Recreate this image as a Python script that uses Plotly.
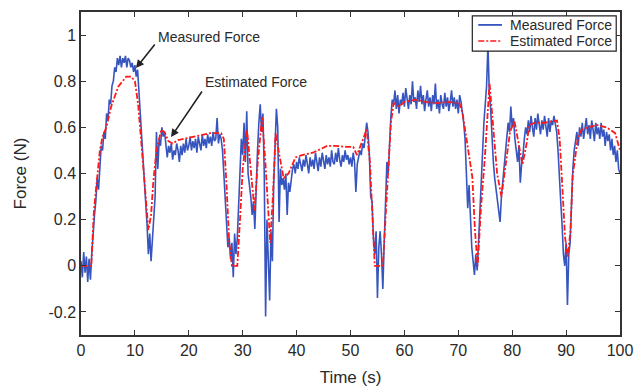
import numpy as np
import plotly.graph_objects as go

# Measured force sampled every 0.25 s (0 .. 100 s)
measured = [
    0.02, -0.05, 0.06, -0.03,
    0.04, -0.07, 0.03, -0.06,
    0.05, 0.15, 0.22, 0.28,
    0.38, 0.33, 0.45, 0.52,
    0.50, 0.58, 0.55, 0.66,
    0.63, 0.72, 0.70, 0.78,
    0.80, 0.86, 0.84, 0.90,
    0.87, 0.91, 0.86, 0.90,
    0.88, 0.91, 0.86, 0.90,
    0.89, 0.86, 0.88, 0.84,
    0.87, 0.82, 0.85, 0.76,
    0.68, 0.58, 0.50, 0.40,
    0.30, 0.18, 0.05, 0.14,
    0.02, 0.12, 0.25, 0.30,
    0.58, 0.42, 0.55, 0.52,
    0.60, 0.56, 0.58, 0.53,
    0.47, 0.52, 0.49, 0.53,
    0.46, 0.50, 0.48, 0.53,
    0.50, 0.45, 0.52, 0.48,
    0.53, 0.49, 0.55, 0.50,
    0.52, 0.56, 0.50, 0.54,
    0.51, 0.55, 0.49, 0.56,
    0.53, 0.50, 0.57, 0.52,
    0.55, 0.51, 0.57, 0.53,
    0.56, 0.52, 0.58, 0.54,
    0.55, 0.64, 0.53, 0.57,
    0.55, 0.50, 0.40, 0.28,
    0.15, 0.08, 0.12, 0.03,
    0.10, -0.05, 0.14, 0.05,
    0.12, 0.25, 0.40, 0.55,
    0.48, 0.62, 0.45, 0.67,
    0.40, 0.35, 0.30, 0.22,
    0.28, 0.16, 0.35, 0.50,
    0.62, 0.70, 0.58, 0.66,
    0.40, -0.22, 0.20, 0.05,
    -0.15, 0.15, 0.02, 0.35,
    0.55, 0.68, 0.60, 0.19,
    0.42, 0.35, 0.38, 0.33,
    0.40, 0.22, 0.36, 0.32,
    0.37, 0.42, 0.44, 0.40,
    0.45, 0.42, 0.47, 0.43,
    0.41, 0.46, 0.43, 0.48,
    0.44, 0.40, 0.47, 0.43,
    0.46, 0.42, 0.49, 0.44,
    0.41, 0.47, 0.43, 0.49,
    0.45, 0.42, 0.48, 0.44,
    0.47, 0.43, 0.50, 0.45,
    0.44, 0.49, 0.45, 0.51,
    0.46, 0.43, 0.48, 0.45,
    0.50, 0.46, 0.48, 0.44,
    0.47, 0.43, 0.49, 0.45,
    0.32, 0.44, 0.47, 0.50,
    0.48, 0.53, 0.51, 0.56,
    0.62, 0.58, 0.48, 0.30,
    0.28, 0.12, 0.05, 0.15,
    -0.14, 0.08, 0.15, 0.05,
    -0.10, 0.10, 0.25, 0.45,
    0.40, 0.55, 0.65, 0.72,
    0.70, 0.76, 0.68, 0.74,
    0.66, 0.72, 0.70, 0.75,
    0.69, 0.77, 0.72, 0.68,
    0.74, 0.70, 0.80, 0.71,
    0.73, 0.68, 0.76, 0.71,
    0.78, 0.70, 0.74, 0.67,
    0.72, 0.76, 0.69, 0.73,
    0.67, 0.74, 0.70, 0.79,
    0.68, 0.72, 0.66, 0.74,
    0.70, 0.68, 0.75, 0.69,
    0.73, 0.67, 0.71, 0.76,
    0.69, 0.73, 0.68, 0.72,
    0.66, 0.74, 0.71, 0.67,
    0.62, 0.55, 0.40, 0.25,
    0.35, 0.20, 0.08, 0.02,
    -0.04, 0.05, -0.02, 0.10,
    0.25, 0.40, 0.50, 0.62,
    0.70, 0.78, 0.96, 0.75,
    0.68, 0.55, 0.45, 0.38,
    0.33, 0.30, 0.25, 0.19,
    0.30, 0.36, 0.45, 0.50,
    0.55, 0.62, 0.58, 0.69,
    0.60, 0.64, 0.55, 0.50,
    0.45, 0.52, 0.36, 0.44,
    0.48, 0.55, 0.60, 0.57,
    0.63, 0.58, 0.65, 0.60,
    0.56, 0.64, 0.59, 0.66,
    0.61, 0.57, 0.63, 0.59,
    0.65, 0.60, 0.56, 0.64,
    0.58, 0.63, 0.61, 0.65,
    0.62, 0.58, 0.50, 0.35,
    0.28, 0.18, 0.05, 0.00,
    0.10, -0.17, 0.05, 0.10,
    0.30, 0.42, 0.50, 0.55,
    0.58, 0.52, 0.60, 0.56,
    0.62, 0.55, 0.60, 0.64,
    0.57, 0.61, 0.55, 0.63,
    0.59, 0.54, 0.62, 0.57,
    0.60, 0.55, 0.62, 0.56,
    0.59, 0.52, 0.58, 0.54,
    0.57, 0.50, 0.55, 0.48,
    0.52, 0.45, 0.50, 0.42,
    0.40,
]
measured_time = np.arange(len(measured)) * 0.25

# Estimated force (smooth curve), read at selected times
est_time = [0, 1, 1.9, 2.4, 3.0, 3.5, 4.0, 4.7, 5.6, 6.9, 8.4, 9.3, 10.0, 10.6,
            11.2, 11.9, 12.5, 13.0, 13.4, 14.0, 14.9, 15.5, 16.2, 17.0, 18.0,
            20.0, 22.0, 24.0, 26.0, 26.5, 27.0, 27.5, 28.0, 29.0, 29.5, 30.0,
            30.8, 31.5, 32.2, 32.8, 33.6, 34.2, 35.1, 35.6, 36.1, 36.8, 37.6,
            38.5, 39.8, 41.0, 43.0, 45.7, 47.0, 49.5, 50.5, 51.2, 52.0, 53.0,
            53.6, 54.0, 54.5, 56.0, 56.5, 57.0, 57.5, 58.0, 59.0, 60.0, 62.0,
            64.0, 66.0, 68.0, 70.2, 70.8, 71.5, 72.6, 73.1, 73.6, 74.2, 74.9,
            75.8, 76.5, 77.2, 78.0, 78.8, 79.6, 80.4, 81.2, 81.9, 82.6, 83.2,
            84.2, 86.0, 88.3, 88.8, 89.2, 89.8, 90.3, 90.8, 91.2, 92.2, 92.9,
            94.0, 95.7, 97.5, 99.1, 100.0]
estimated = [0.0, 0.0, 0.0, 0.24, 0.38, 0.50, 0.56, 0.60, 0.69, 0.776, 0.82,
             0.82, 0.80, 0.70, 0.53, 0.34, 0.155, 0.22, 0.36, 0.50, 0.59, 0.58,
             0.54, 0.53, 0.545, 0.555, 0.565, 0.575, 0.575, 0.55, 0.35, 0.10,
             0.0, 0.0, 0.20, 0.42, 0.59, 0.40, 0.24, 0.45, 0.645, 0.45, 0.10,
             0.30, 0.575, 0.48, 0.38, 0.40, 0.47, 0.48, 0.49, 0.52, 0.52,
             0.515, 0.515, 0.48, 0.53, 0.59, 0.45, 0.25, 0.0, 0.0, 0.20, 0.45,
             0.62, 0.705, 0.69, 0.71, 0.72, 0.71, 0.705, 0.71, 0.705, 0.66,
             0.55, 0.385, 0.15, 0.0, 0.25, 0.46, 0.79, 0.60, 0.40, 0.30, 0.45,
             0.58, 0.63, 0.52, 0.44, 0.52, 0.61, 0.62, 0.62, 0.63, 0.55, 0.385,
             0.125, 0.04, 0.15, 0.385, 0.56, 0.59, 0.60, 0.61, 0.60, 0.575,
             0.50]

x_ticks = [0, 10, 20, 30, 40, 50, 60, 70, 80, 90, 100]
y_ticks = [-0.2, 0, 0.2, 0.4, 0.6, 0.8, 1]
y_tick_labels = ["-0.2", "0", "0.2", "0.4", "0.6", "0.8", "1"]
series_names = ["Measured Force", "Estimated Force"]

FONT = "Liberation Sans, Arial, sans-serif"
TEXT = "#2a2a2a"
BLUE = "rgb(55,85,190)"
RED = "rgb(255,25,25)"
DASHDOT = "6px,2px,2px,2px"

fig = go.Figure()
fig.add_trace(go.Scatter(x=measured_time, y=measured, mode="lines",
                         name=series_names[0], showlegend=False,
                         line=dict(color=BLUE, width=1.6)))
fig.add_trace(go.Scatter(x=est_time, y=estimated, mode="lines",
                         name=series_names[1], showlegend=False,
                         line=dict(color=RED, width=1.8, dash=DASHDOT)))

# Callout texts and arrows
fig.add_annotation(x=23.7, y=0.992, text="Measured Force", showarrow=False,
                   font=dict(family=FONT, size=14, color=TEXT))
fig.add_annotation(x=10.2, y=0.857, ax=20, ay=-25, text="", showarrow=True,
                   arrowhead=2, arrowsize=1, arrowwidth=1.6, arrowcolor="#222")
fig.add_annotation(x=32.4, y=0.797, text="Estimated Force", showarrow=False,
                   font=dict(family=FONT, size=14, color=TEXT))
fig.add_annotation(x=16.7, y=0.558, ax=32, ay=-47, text="", showarrow=True,
                   arrowhead=2, arrowsize=1, arrowwidth=1.6, arrowcolor="#222")

# Legend box (drawn in paper coordinates)
fig.add_shape(type="rect", xref="paper", yref="paper",
              x0=0.726, x1=0.993, y0=0.879, y1=0.988,
              line=dict(color="#222", width=1.2), fillcolor="white", layer="above")
legend_rows = [0.960, 0.910]
legend_styles = [dict(color=BLUE, width=1.8), dict(color=RED, width=1.6, dash=DASHDOT)]
for name, yr, st in zip(series_names, legend_rows, legend_styles):
    fig.add_shape(type="line", xref="paper", yref="paper",
                  x0=0.737, x1=0.781, y0=yr, y1=yr, line=st, layer="above")
    fig.add_annotation(xref="paper", yref="paper", x=0.793, y=yr, text=name,
                       showarrow=False, xanchor="left", yanchor="middle",
                       font=dict(family=FONT, size=14, color=TEXT))

axis_common = dict(showline=True, linecolor="#333", linewidth=1.5, mirror="ticks",
                   ticks="inside", ticklen=5, tickcolor="#333", tickwidth=1.2,
                   showgrid=False, zeroline=False, automargin=False,
                   tickfont=dict(family=FONT, size=16, color=TEXT))

fig.update_layout(
    width=637, height=390,
    margin=dict(l=81, r=17, t=12, b=55),
    paper_bgcolor="white", plot_bgcolor="white",
    font=dict(family=FONT, color=TEXT),
    xaxis=dict(range=[0, 100], tickvals=x_ticks,
               title=dict(text="Time (s)", font=dict(family=FONT, size=17, color=TEXT),
                          standoff=13),
               **axis_common),
    yaxis=dict(range=[-0.3, 1.1], tickvals=y_ticks, ticktext=y_tick_labels,
               title=dict(text="Force (N)", font=dict(family=FONT, size=17, color=TEXT),
                          standoff=18),
               **axis_common),
    showlegend=False,
)

fig.write_html("out.html")
